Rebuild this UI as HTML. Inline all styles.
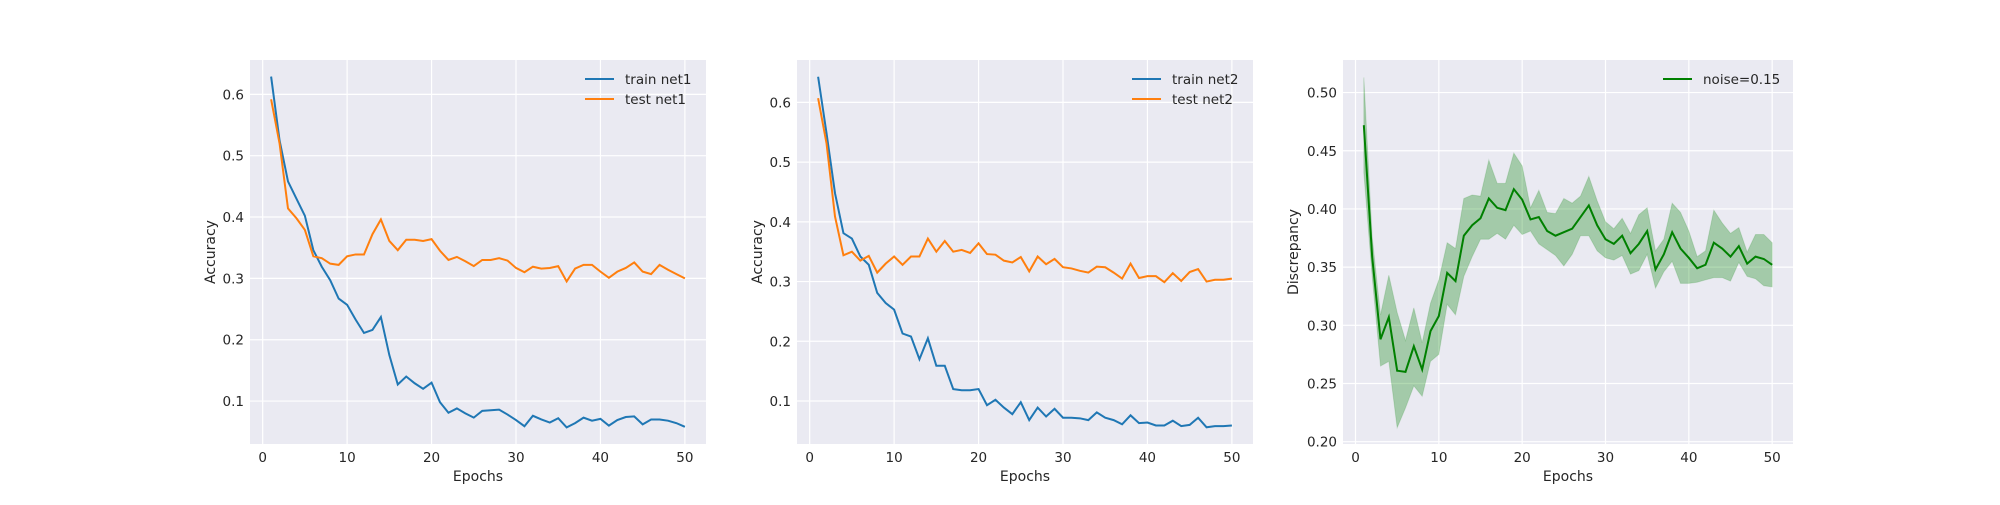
<!DOCTYPE html>
<html><head><meta charset="utf-8"><style>
body{margin:0;background:#fff;}
svg text{font-family:"DejaVu Sans","Liberation Sans",sans-serif;fill:#262626;}
</style></head><body>
<svg id="c" width="2000" height="500" xmlns="http://www.w3.org/2000/svg"></svg>
<script>
const epochs = Array.from({length:50},(_,i)=>i+1);
const trainNet1 = [0.629,0.525,0.458,0.43,0.402,0.346,0.319,0.297,0.267,0.257,0.233,0.211,0.216,0.237,0.175,0.127,0.14,0.129,0.12,0.13,0.098,0.081,0.088,0.08,0.073,0.084,0.085,0.086,0.078,0.069,0.059,0.076,0.07,0.065,0.072,0.057,0.064,0.073,0.068,0.071,0.06,0.069,0.074,0.075,0.062,0.07,0.07,0.068,0.064,0.058];
const testNet1 = [0.592,0.52,0.414,0.398,0.379,0.336,0.333,0.324,0.322,0.336,0.339,0.339,0.372,0.396,0.361,0.346,0.363,0.363,0.361,0.364,0.345,0.33,0.335,0.328,0.32,0.33,0.33,0.333,0.329,0.317,0.31,0.319,0.316,0.317,0.32,0.295,0.316,0.322,0.322,0.311,0.301,0.311,0.317,0.326,0.311,0.307,0.322,0.314,0.307,0.3];
const trainNet2 = [0.643,0.548,0.448,0.381,0.372,0.342,0.328,0.281,0.264,0.253,0.213,0.208,0.17,0.205,0.159,0.159,0.12,0.118,0.118,0.12,0.093,0.102,0.089,0.078,0.098,0.068,0.089,0.074,0.087,0.072,0.072,0.071,0.068,0.081,0.072,0.068,0.061,0.076,0.063,0.064,0.059,0.059,0.067,0.058,0.06,0.072,0.056,0.058,0.058,0.059];
const testNet2 = [0.607,0.531,0.409,0.344,0.35,0.335,0.343,0.315,0.33,0.342,0.328,0.342,0.342,0.372,0.35,0.368,0.35,0.353,0.348,0.364,0.346,0.345,0.335,0.332,0.341,0.317,0.342,0.329,0.338,0.324,0.322,0.318,0.315,0.325,0.324,0.315,0.305,0.33,0.306,0.309,0.309,0.299,0.314,0.301,0.316,0.321,0.3,0.303,0.303,0.305];
const discMean = [0.472,0.359,0.288,0.307,0.261,0.26,0.282,0.262,0.295,0.308,0.345,0.338,0.377,0.386,0.392,0.409,0.401,0.399,0.417,0.408,0.391,0.393,0.381,0.377,0.38,0.383,0.393,0.403,0.386,0.374,0.37,0.377,0.362,0.37,0.381,0.348,0.361,0.38,0.366,0.358,0.349,0.352,0.371,0.366,0.359,0.368,0.353,0.359,0.357,0.352];
const discUpper = [0.513,0.376,0.309,0.343,0.311,0.287,0.315,0.285,0.319,0.339,0.371,0.366,0.409,0.412,0.411,0.442,0.422,0.422,0.448,0.437,0.401,0.416,0.397,0.396,0.409,0.405,0.411,0.428,0.407,0.389,0.383,0.392,0.379,0.395,0.401,0.364,0.374,0.405,0.397,0.381,0.359,0.364,0.399,0.388,0.379,0.384,0.363,0.378,0.378,0.371];
const discLower = [0.431,0.342,0.265,0.269,0.212,0.229,0.248,0.239,0.269,0.275,0.318,0.309,0.342,0.359,0.374,0.374,0.379,0.374,0.386,0.378,0.381,0.37,0.365,0.36,0.351,0.361,0.377,0.377,0.364,0.358,0.356,0.36,0.344,0.347,0.361,0.332,0.346,0.355,0.336,0.336,0.337,0.339,0.341,0.341,0.338,0.354,0.342,0.34,0.334,0.333];
const xTicks = [0,10,20,30,40,50];
const yTicks12 = [0.1,0.2,0.3,0.4,0.5,0.6];
const yTicks3 = [0.20,0.25,0.30,0.35,0.40,0.45,0.50];

const svg = document.getElementById('c');
const NS = 'http://www.w3.org/2000/svg';
function mk(tag, attrs, parent){const e=document.createElementNS(NS,tag);for(const k in attrs)e.setAttribute(k,attrs[k]);(parent||svg).appendChild(e);return e;}

function panel(p){
  const g = mk('g',{});
  
  
  const sx = v => p.x0 + (v - p.xmin)/(p.xmax-p.xmin)*(p.x1-p.x0);
  const sy = v => p.y1 - (v - p.ymin)/(p.ymax-p.ymin)*(p.y1-p.y0);
  const bg = mk('rect',{x:p.x0,y:p.y0,width:p.x1-p.x0,height:p.y1-p.y0,fill:'#EAEAF2'},g);
  
  
  xTicks.forEach(t=>{
    mk('line',{x1:sx(t),x2:sx(t),y1:p.y0,y2:p.y1,stroke:'#fff','stroke-width':1.2},g);
    const tx = mk('text',{x:sx(t),y:p.y1+18,'text-anchor':'middle','font-size':13.5},g);
    tx.textContent = t;
    
    
  });
  p.yTicks.forEach(t=>{
    mk('line',{x1:p.x0,x2:p.x1,y1:sy(t),y2:sy(t),stroke:'#fff','stroke-width':1.2},g);
    const tx = mk('text',{x:p.x0-6,y:sy(t)+5,'text-anchor':'end','font-size':13.5},g);
    tx.textContent = t.toFixed(p.dec);
    
    
  });
  if(p.band){
    let d='M'+epochs.map((e,i)=>sx(e)+','+sy(p.band[0][i])).join('L');
    d+='L'+epochs.slice().reverse().map((e,j)=>{const i=epochs.length-1-j;return sx(e)+','+sy(p.band[1][i]);}).join('L')+'Z';
    const b = mk('path',{d:d,fill:'green','fill-opacity':0.3,stroke:'green','stroke-opacity':0.15},g);
    
    
  }
  p.series.forEach(s=>{
    const l = mk('polyline',{points:epochs.map((e,i)=>sx(e)+','+sy(s.data[i])).join(' '),fill:'none',stroke:s.color,'stroke-width':2},g);
    
    
  });
  p.series.forEach((s,i)=>{
    const ly = p.y0+19+i*20;
    const lx = p.x1-p.legW;
    const ll = mk('line',{x1:lx,x2:lx+29,y1:ly,y2:ly,stroke:s.color,'stroke-width':2},g);
    
    
    const lt = mk('text',{x:lx+40,y:ly+5,'font-size':13.5},g);
    lt.textContent = s.label;
    
    
  });
  const xt = mk('text',{x:(p.x0+p.x1)/2,y:481,'text-anchor':'middle','font-size':14},g);
  xt.textContent='Epochs';
  
  
  const yx = p.x0-p.yTitleOff, yy=(p.y0+p.y1)/2;
  const yt = mk('text',{x:yx,y:yy,'text-anchor':'middle','font-size':14,transform:`rotate(-90 ${yx} ${yy})`},g);
  yt.textContent=p.ytitle;
  
  
}

panel({name:'net1-panel',x0:250,x1:706,y0:60,y1:444,xmin:-1.5,xmax:52.5,ymin:0.03,ymax:0.656,yTicks:yTicks12,dec:1,ytitle:'Accuracy',yTitleOff:35,legW:121,
  series:[{key:'train-net1',label:'train net1',color:'#1f77b4',data:trainNet1},{key:'test-net1',label:'test net1',color:'#ff7f0e',data:testNet1}]});
panel({name:'net2-panel',x0:797,x1:1253,y0:60,y1:444,xmin:-1.5,xmax:52.5,ymin:0.028,ymax:0.671,yTicks:yTicks12,dec:1,ytitle:'Accuracy',yTitleOff:35,legW:121,
  series:[{key:'train-net2',label:'train net2',color:'#1f77b4',data:trainNet2},{key:'test-net2',label:'test net2',color:'#ff7f0e',data:testNet2}]});
panel({name:'discrepancy-panel',x0:1343,x1:1793,y0:60,y1:444,xmin:-1.5,xmax:52.5,ymin:0.198,ymax:0.528,yTicks:yTicks3,dec:2,ytitle:'Discrepancy',yTitleOff:45,legW:130,band:[discUpper,discLower],
  series:[{key:'noise-015',label:'noise=0.15',color:'green',data:discMean}]});
</script>
</body></html>
